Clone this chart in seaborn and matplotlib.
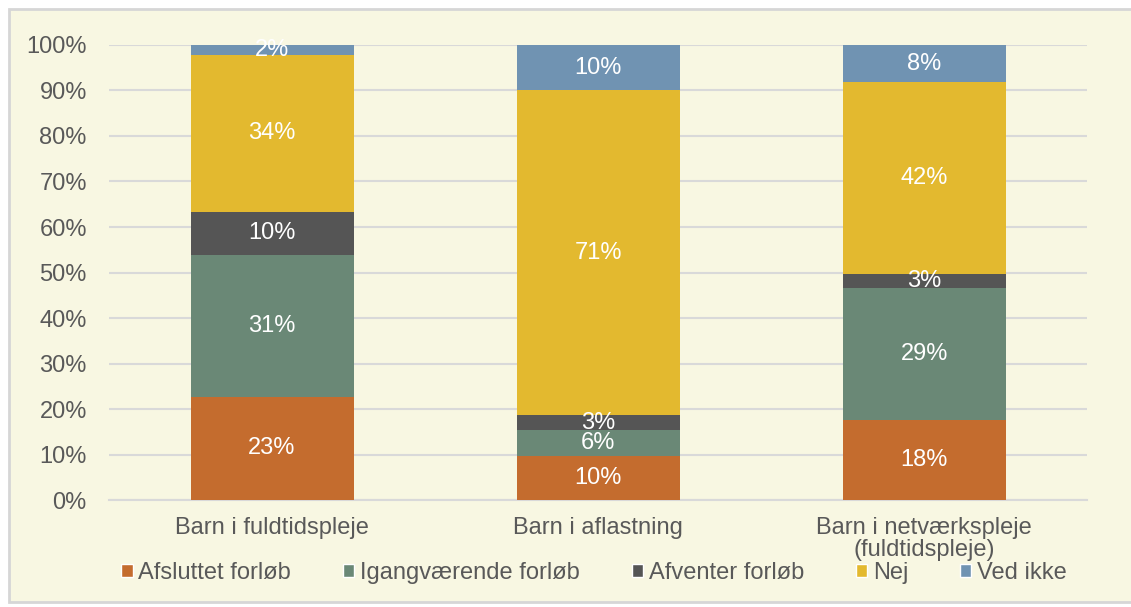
import numpy as np
import pandas as pd
import seaborn as sns
import matplotlib.pyplot as plt
from matplotlib.patches import Rectangle, Patch

# Categories and series (shares in %)
categories = ['Barn i fuldtidspleje', 'Barn i aflastning', 'Barn i netværkspleje\n(fuldtidspleje)']
series = ['Afsluttet forløb', 'Igangværende forløb', 'Afventer forløb', 'Nej', 'Ved ikke']
afsluttet = [22.7, 9.6, 17.5]
igangvaerende = [31.1, 5.8, 29.1]
afventer = [9.6, 3.2, 3.0]
nej = [34.3, 71.4, 42.2]
ved_ikke = [2.3, 10.0, 8.2]

colors = ['#C46C2E', '#6A8876', '#555555', '#E3B92F', '#7093B2']
bg = '#F8F7E2'
text_col = '#595959'
fs = 17

sns.set_theme(style='white')
plt.rcParams['font.family'] = ['Liberation Sans', 'DejaVu Sans']

df = pd.DataFrame({
    'kategori': categories,
    'Afsluttet forløb': afsluttet,
    'Igangværende forløb': igangvaerende,
    'Afventer forløb': afventer,
    'Nej': nej,
    'Ved ikke': ved_ikke,
})
cum = df[series].cumsum(axis=1)

fig = plt.figure(figsize=(11.31, 6.07), dpi=100)
fig.patch.set_facecolor('white')
# chart frame
frame = Rectangle((9 / 1131, 0.008), 1.0, 1 - 9 / 607 - 0.008, transform=fig.transFigure,
                  facecolor=bg, edgecolor='#D6D6D6', linewidth=2, zorder=-10)
fig.add_artist(frame)

ax = fig.add_axes([0.0964, 0.176, 0.8648, 0.75])
ax.set_zorder(1)
ax.patch.set_alpha(0)

# draw stacked bars from the top segment down
for i in range(len(series) - 1, -1, -1):
    s = series[i]
    sns.barplot(x=df['kategori'], y=cum[s], color=colors[i], width=0.5,
                saturation=1, linewidth=0, ax=ax, zorder=3)

# value labels
for j in range(len(categories)):
    base = 0
    for s in series:
        v = df.loc[j, s]
        ax.text(j, base + v / 2, f'{v:.0f}%', ha='center', va='center',
                color='white', fontsize=fs, zorder=5)
        base += v

ax.set_ylim(0, 100)
ax.set_xlim(-0.5, 2.5)
ax.set_yticks(np.arange(0, 101, 10))
ax.set_yticklabels([f'{t}%' for t in range(0, 101, 10)])
ax.yaxis.grid(True, color='#D9D9D9', linewidth=1.5, zorder=0)
ax.set_axisbelow(True)
for sp in ['top', 'right', 'left']:
    ax.spines[sp].set_visible(False)
ax.spines['bottom'].set_color('#D9D9D9')
ax.spines['bottom'].set_linewidth(1.5)
ax.set_xlabel('')
ax.set_ylabel('')
ax.tick_params(axis='y', length=0, labelsize=fs, labelcolor=text_col, pad=16)
ax.set_xticks([])
ax.set_xticks([-0.5, 0.5, 1.5, 2.5], minor=True)
ax.tick_params(axis='x', which='minor', length=6, color='#D9D9D9', width=1.5)
for j, c in enumerate(categories):
    ax.text(j, -3.6, c, ha='center', va='top', fontsize=fs, color=text_col,
            linespacing=1.0)

handles = [Patch(facecolor=colors[i], label=series[i]) for i in range(len(series))]
fig.legend(handles=handles, loc='center left', bbox_to_anchor=(0.099, 0.056), ncol=5,
           frameon=False, fontsize=fs, labelcolor=text_col, handlelength=0.47,
           handleheight=0.47, handletextpad=0.25, columnspacing=2.2, borderaxespad=0)

fig.savefig('out.png', dpi=100, facecolor=fig.get_facecolor())
